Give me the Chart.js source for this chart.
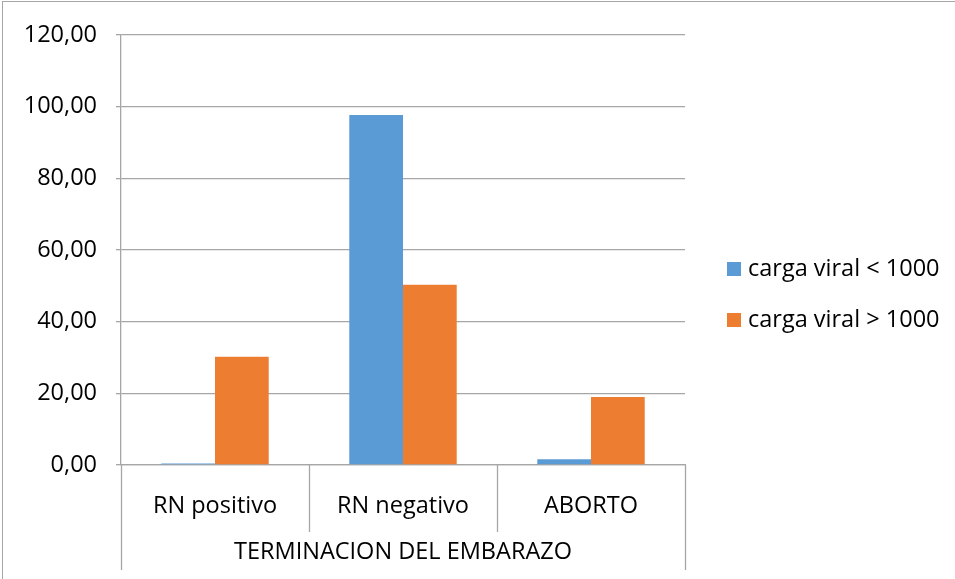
<!DOCTYPE html>
<html>
<head>
<meta charset="utf-8">
<script src="https://cdn.jsdelivr.net/npm/chart.js@4/dist/chart.umd.min.js"></script>
<style>
  body { margin: 0; background: #fff; }
  #wrap { position: relative; width: 955px; height: 579px; overflow: hidden; }
  #frame { position: absolute; left: 2px; top: 1px; width: 1000px; height: 700px; border-left: 1px solid #a6a6a6; border-top: 1px solid #a6a6a6; }
  #chartTerminacion { position: absolute; left: 0; top: 0; }
  .custom-legends { position: absolute; left: 727px; top: 252px; margin: 0; padding: 0; list-style: none;
    font-family: "Open Sans", sans-serif; font-size: 23.5px; color: #000; }
  .custom-legends li { height: 51px; line-height: 30px; white-space: nowrap; }
  .custom-legends .dot { display: inline-block; width: 14px; height: 14px; margin-right: 7px; vertical-align: 0px; }
</style>
</head>
<body>
<div id="wrap">
  <div id="frame"></div>
  <canvas id="chartTerminacion" width="955" height="579"></canvas>
  <div id="legendTerminacion"></div>
</div>
<script>
// datos
let categorias = ['RN positivo', 'RN negativo', 'ABORTO'];
let serieMenor = [0.4, 97.7, 1.6];
let serieMayor = [30.2, 50.3, 19.0];
let nombresSeries = ['carga viral < 1000', 'carga viral > 1000'];
let coloresSeries = ['#5b9bd5', '#ed7d31'];
let tituloEjeX = 'TERMINACION DEL EMBARAZO';

const fuente = "'Open Sans', sans-serif";
const tamano = 23.5;

// lineas separadoras de categorias bajo el eje x
const separadores = {
    id: 'separadores',
    afterDraw(chart) {
        let x = chart.scales.x;
        let ctx = chart.ctx;
        let n = categorias.length;
        ctx.save();
        ctx.strokeStyle = '#a6a6a6';
        ctx.lineWidth = 1.3;
        for (let i = 0; i <= n; i++) {
            let px = Math.round(x.left + i * (x.right - x.left) / n) + 0.5;
            let fin = (i === 0 || i === n) ? 570 : 532;
            ctx.beginPath();
            ctx.moveTo(px, x.top);
            ctx.lineTo(px, fin);
            ctx.stroke();
        }
        ctx.restore();
    }
};

let canvas = document.getElementById("chartTerminacion");
let chart = new Chart(canvas, {
    type: 'bar',
    data: {
        labels: categorias,
        datasets: [
            { label: nombresSeries[0], data: serieMenor, backgroundColor: coloresSeries[0] },
            { label: nombresSeries[1], data: serieMayor, backgroundColor: coloresSeries[1] }
        ]
    },
    options: {
        responsive: false,
        animation: false,
        layout: { padding: { left: 0, right: 270, top: 35, bottom: 0 } },
        datasets: { bar: { categoryPercentage: 2 / 3.5, barPercentage: 1 } },
        plugins: { legend: { display: false }, tooltip: { enabled: false } },
        scales: {
            x: {
                grid: { display: false },
                border: { display: true, color: '#a6a6a6', width: 1.3 },
                ticks: { color: '#000', font: { family: fuente, size: tamano }, padding: 19 },
                title: { display: true, text: tituloEjeX, color: '#000', font: { family: fuente, size: tamano }, padding: { top: 10, bottom: 13 } },
                afterFit(scale) { scale.height = 114; }
            },
            y: {
                min: 0, max: 120,
                ticks: {
                    stepSize: 20, color: '#000', font: { family: fuente, size: tamano }, padding: 19,
                    callback: v => v.toFixed(2).replace('.', ',')
                },
                grid: { color: '#a6a6a6', lineWidth: 1.3, tickLength: 5 },
                border: { display: true, color: '#a6a6a6', width: 1.3 },
                afterFit(scale) { scale.width = 121; }
            }
        }
    },
    plugins: [separadores]
});

let elem = [];
elem.push('<ul class="custom-legends">');
for (let i = 0; i < chart.data.datasets.length; i++) {
    elem.push('<li><span class="dot" style="background-color:' + chart.data.datasets[i].backgroundColor + '"></span>' +
        chart.data.datasets[i].label.replace('<', '&lt;').replace('>', '&gt;') + '</li>');
}
elem.push('</ul>');
document.getElementById("legendTerminacion").innerHTML = elem.join("");
</script>
</body>
</html>
